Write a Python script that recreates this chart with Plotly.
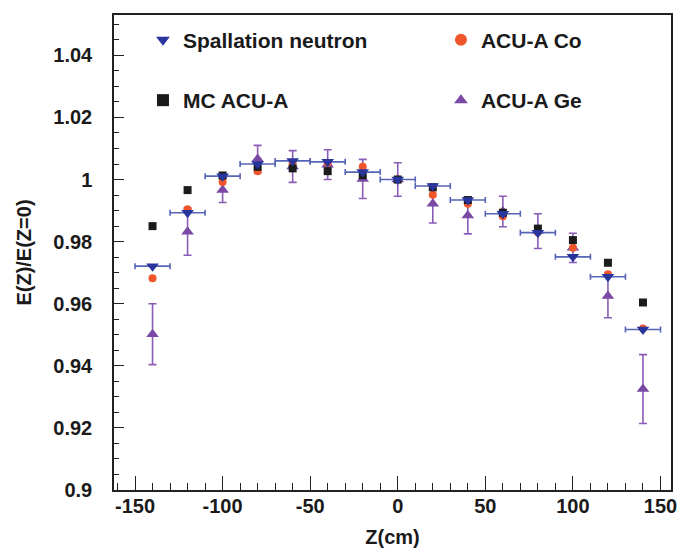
import plotly.graph_objects as go

# ---------- data ----------
z = [-140, -120, -100, -80, -60, -40, -20, 0, 20, 40, 60, 80, 100, 120, 140]
z_halfwidth = [10] * len(z)

spallation = [0.9721, 0.9893, 1.0011, 1.0050, 1.0060, 1.0057, 1.0024, 1.0000,
              0.9979, 0.9934, 0.9890, 0.9829, 0.9751, 0.9687, 0.9517]
mc_acu_a = [0.9850, 0.9966, 1.0013, 1.0041, 1.0036, 1.0027, 1.0014, 1.0000,
            0.9975, 0.9934, 0.9893, 0.9842, 0.9805, 0.9732, 0.9604]
acu_a_co = [0.9682, 0.9904, 0.9992, 1.0027, 1.0054, 1.0054, 1.0041, 1.0000,
            0.9951, 0.9922, 0.9882, 0.9830, 0.9780, 0.9695, 0.9520]
acu_a_ge = [0.9502, 0.9832, 0.9966, 1.0066, 1.0042, 1.0048, 1.0002, 1.0000,
            0.9922, 0.9884, 0.9897, 0.9834, 0.9780, 0.9625, 0.9325]
acu_a_ge_err = [0.0098, 0.0076, 0.0040, 0.0044, 0.0051, 0.0048, 0.0063, 0.0054,
                0.0062, 0.0059, 0.0049, 0.0056, 0.0047, 0.0070, 0.0111]

y_ticks = [0.9, 0.92, 0.94, 0.96, 0.98, 1.0, 1.02, 1.04]
y_ticklabels = ["0.9", "0.92", "0.94", "0.96", "0.98", "1", "1.02", "1.04"]
x_ticks = [-150, -100, -50, 0, 50, 100, 150]
x_ticklabels = ["-150", "-100", "-50", "0", "50", "100", "150"]

FONT = "Liberation Sans, Arial, sans-serif"
BLUE, BLUE_BAR = "#27359c", "#5664b6"
ORANGE = "#f0562a"
BLACK = "#1b1b1b"
PURPLE, PURPLE_BAR = "#7a49a6", "#8a5cb8"

fig = go.Figure()

# drawing order: Ge, Co, MC, then spallation on top
fig.add_trace(go.Scatter(
    x=z, y=acu_a_ge, mode="markers", name="ACU-A Ge",
    marker=dict(symbol="triangle-up", size=11, color=PURPLE),
    error_y=dict(type="data", array=acu_a_ge_err, color=PURPLE_BAR,
                 thickness=1.6, width=4),
    legend="legend4", showlegend=True,
))
fig.add_trace(go.Scatter(
    x=z, y=acu_a_co, mode="markers", name="ACU-A Co",
    marker=dict(symbol="circle", size=8, color=ORANGE),
    legend="legend2", showlegend=True,
))
fig.add_trace(go.Scatter(
    x=z, y=mc_acu_a, mode="markers", name="MC ACU-A",
    marker=dict(symbol="square", size=8, color=BLACK),
    legend="legend3", showlegend=True,
))
fig.add_trace(go.Scatter(
    x=z, y=spallation, mode="markers", name="Spallation neutron",
    marker=dict(symbol="triangle-down", size=11, color=BLUE),
    error_x=dict(type="data", array=z_halfwidth, color=BLUE_BAR,
                 thickness=1.6, width=3),
    legend="legend", showlegend=True,
))

# one legend box per entry so the 2x2 layout matches the original
legend_style = dict(
    xanchor="left", yanchor="middle", bgcolor="rgba(0,0,0,0)",
    font=dict(family=FONT, size=21, color="#1a1a1a", weight="bold"),
    itemsizing="constant",
)

fig.update_layout(
    width=689, height=553,
    margin=dict(l=106, r=26, t=5, b=71),
    paper_bgcolor="white", plot_bgcolor="white",
    showlegend=True,
    font=dict(family=FONT, size=20, color="#1a1a1a"),
    legend=dict(x=0.052, y=0.947, **legend_style),
    legend2=dict(x=0.587, y=0.947, **legend_style),
    legend3=dict(x=0.052, y=0.82, **legend_style),
    legend4=dict(x=0.587, y=0.82, **legend_style),
    xaxis=dict(
        range=[-162, 156], tickvals=x_ticks, ticktext=x_ticklabels,
        ticks="inside", ticklen=14, tickwidth=1.3, tickcolor="#222",
        minor=dict(dtick=10, ticks="inside", ticklen=7, tickwidth=1.1,
                   tickcolor="#222"),
        showgrid=False, zeroline=False,
        showline=True, linecolor="#222", linewidth=1.5, mirror=True,
        tickfont=dict(family=FONT, size=20, weight="bold"),
        ticklabelstandoff=-3,
        title=dict(text="<b>Z(cm)</b>", font=dict(family=FONT, size=20),
                   standoff=14),
    ),
    yaxis=dict(
        range=[0.9, 1.053], tickvals=y_ticks, ticktext=y_ticklabels,
        ticks="inside", ticklen=10, tickwidth=1.3, tickcolor="#222",
        minor=dict(dtick=0.005, tick0=0.9, ticks="inside", ticklen=5,
                   tickwidth=1.1, tickcolor="#222"),
        showgrid=False, zeroline=False,
        showline=True, linecolor="#222", linewidth=1.5, mirror=True,
        tickfont=dict(family=FONT, size=20, weight="bold"),
        ticklabelstandoff=16,
        title=dict(text="<b>E(Z)/E(Z=0)</b>", font=dict(family=FONT, size=20),
                   standoff=16),
    ),
)

fig.write_html("out.html")
